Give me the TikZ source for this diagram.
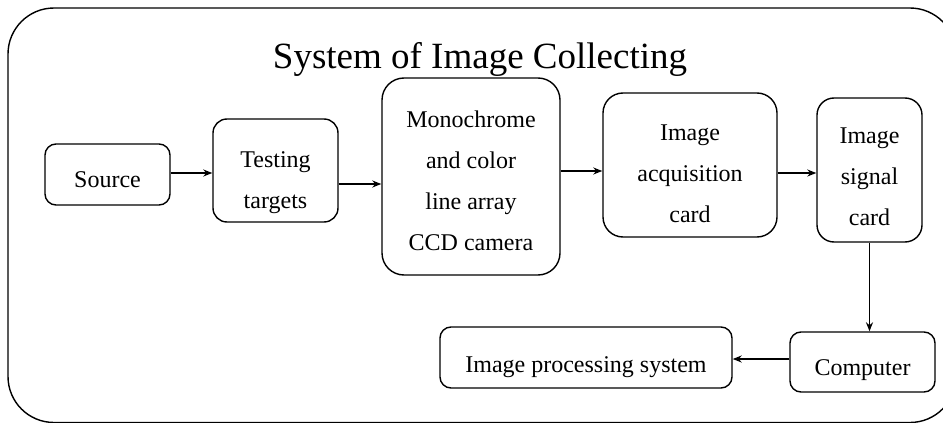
\documentclass[tikz,border=0pt]{standalone}
\usepackage{fontspec}
\setmainfont{Liberation Serif}
\usetikzlibrary{arrows.meta}
% taller first line, so the text sits lower in its box
\newcommand{\lowtext}[1]{\rule{0pt}{#1}}

\begin{document}
\begin{tikzpicture}[
    x=1pt, y=-1pt,
    box/.style={rectangle, draw, line width=1.4pt, rounded corners=12pt, align=center, inner sep=0pt,
                font=\fontsize{24}{41}\selectfont},
    arrow/.style={-{Stealth[length=9pt, width=7pt]}, line width=1.4pt},
    frame/.style={draw, line width=1.4pt, rounded corners=46pt},
    title/.style={font=\fontsize{37}{40}\selectfont, anchor=base}
]
    \useasboundingbox (0,0) rectangle (943,423);
    \clip (0,0) rectangle (943,423);
    \draw[frame] (8,8) rectangle (956,422.5);
    \node[title] (title) at (480,68) {System of Image Collecting};

    \node[box, minimum width=125pt, minimum height=61pt, rounded corners=11pt] (src) at (107.5,174.5) {\lowtext{27.2pt}Source};
    \node[box, minimum width=125pt, minimum height=103pt, rounded corners=14pt] (tst) at (275.5,170.5) {\lowtext{39.2pt}Testing\\targets};
    \node[box, minimum width=178pt, minimum height=197pt, rounded corners=22pt] (cam) at (471,176.5) {\lowtext{25.5pt}Monochrome\\and color\\line array\\CCD camera};
    \node[box, minimum width=174pt, minimum height=144pt, rounded corners=20pt] (acq) at (690,165) {\lowtext{33.2pt}Image\\acquisition\\card};
    \node[box, minimum width=105pt, minimum height=144pt, rounded corners=17pt] (sig) at (869.5,170) {\lowtext{30.2pt}Image\\signal\\card};
    \node[box, minimum width=145pt, minimum height=60pt, rounded corners=11pt] (cmp) at (862.5,362) {\lowtext{31.2pt}Computer};
    \node[box, minimum width=292pt, minimum height=61pt, rounded corners=11pt] (ips) at (586,357.5) {\lowtext{34.2pt}Image processing system};

    \draw[arrow] ([yshift=1.5pt]src.east) -- ([yshift=1.5pt]src.east -| tst.west);
    \draw[arrow] ([yshift=-13.5pt]tst.east) -- ([yshift=-13.5pt]tst.east -| cam.west);
    \draw[arrow] ([yshift=5.5pt]cam.east) -- ([yshift=5.5pt]cam.east -| acq.west);
    \draw[arrow] ([yshift=-8pt]acq.east) -- ([yshift=-8pt]acq.east -| sig.west);
    \draw[arrow] (sig) -- (sig |- cmp.north);
    \draw[arrow] ([yshift=3pt]cmp.west) -- ([yshift=3pt]cmp.west -| ips.east);
\end{tikzpicture}
\end{document}
